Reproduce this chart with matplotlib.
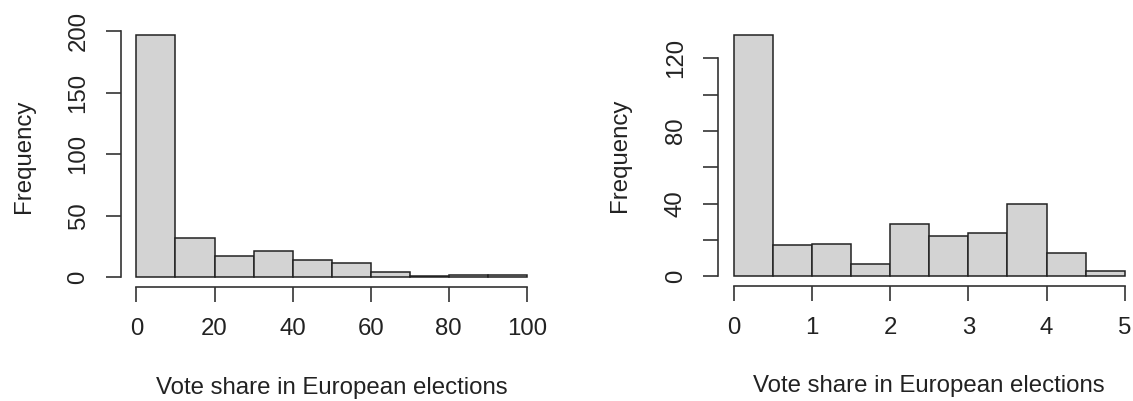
import matplotlib
matplotlib.use("Agg")
import matplotlib.pyplot as plt
import numpy as np

# Data
left_edges = [0, 10, 20, 30, 40, 50, 60, 70, 80, 90, 100]
left_counts = [197, 32, 17, 21, 14, 12, 4, 1, 2, 2]
left_xticks = [0, 20, 40, 60, 80, 100]
left_yticks = [0, 50, 100, 150, 200]
left_ylabels = ["0", "50", "100", "150", "200"]

right_edges = [0, 0.5, 1, 1.5, 2, 2.5, 3, 3.5, 4, 4.5, 5]
right_counts = [133, 17, 18, 7, 29, 22, 24, 40, 13, 3]
right_xticks = [0, 1, 2, 3, 4, 5]
right_yticks = [0, 20, 40, 60, 80, 100, 120]
right_ylabels = ["0", "", "40", "", "80", "", "120"]

xlabel = "Vote share in European elections"
ylabel = "Frequency"

plt.rcParams['font.family'] = ['Liberation Sans', 'DejaVu Sans']
W, H = 1133, 401
fig = plt.figure(figsize=(W / 100, H / 100), dpi=100)

txt = '#222222'
axc = '#333333'
fs = 17.3


def style(ax, edges, counts, xticks, yticks, ylabels, lab_x):
    widths = np.diff(edges)
    ax.bar(edges[:-1], counts, width=widths, align='edge',
           color='#D3D3D3', edgecolor='#222222', linewidth=1.1)
    x0, x1 = edges[0], edges[-1]
    dx = (x1 - x0) * 0.04
    ax.set_xlim(x0 - dx, x1 + dx)
    ymax = max(counts)
    ax.set_ylim(-0.04 * ymax, ymax * 1.04)
    for s in ['top', 'right']:
        ax.spines[s].set_visible(False)
    ax.spines['left'].set_bounds(yticks[0], yticks[-1])
    ax.spines['bottom'].set_bounds(xticks[0], xticks[-1])
    for s in ['left', 'bottom']:
        ax.spines[s].set_color(axc)
        ax.spines[s].set_linewidth(1.2)
    ax.set_xticks(xticks)
    ax.set_xticklabels([str(t) for t in xticks])
    ax.set_yticks(yticks)
    ax.set_yticklabels(ylabels, rotation=90, va='center')
    ax.tick_params(axis='both', length=10.5, width=1.2, color=axc,
                   labelsize=fs, labelcolor=txt, pad=12)
    ax.set_xlabel(xlabel, fontsize=fs, color=txt, va='center')
    ax.xaxis.set_label_coords(0.5, -0.385)
    ax.set_ylabel(ylabel, fontsize=fs, color=txt, va='center')
    ax.yaxis.set_label_coords(lab_x, 0.5)
    ax.patch.set_visible(False)


ax1 = fig.add_axes([120.8 / W, 114 / H, 421.7 / W, 262 / H])
style(ax1, left_edges, left_counts, left_xticks, left_yticks, left_ylabels, -0.23)

ax2 = fig.add_axes([718 / W, 115 / H, 422.4 / W, 261 / H])
style(ax2, right_edges, right_counts, right_xticks, right_yticks, right_ylabels, -0.233)

fig.savefig("out.png", dpi=100)
